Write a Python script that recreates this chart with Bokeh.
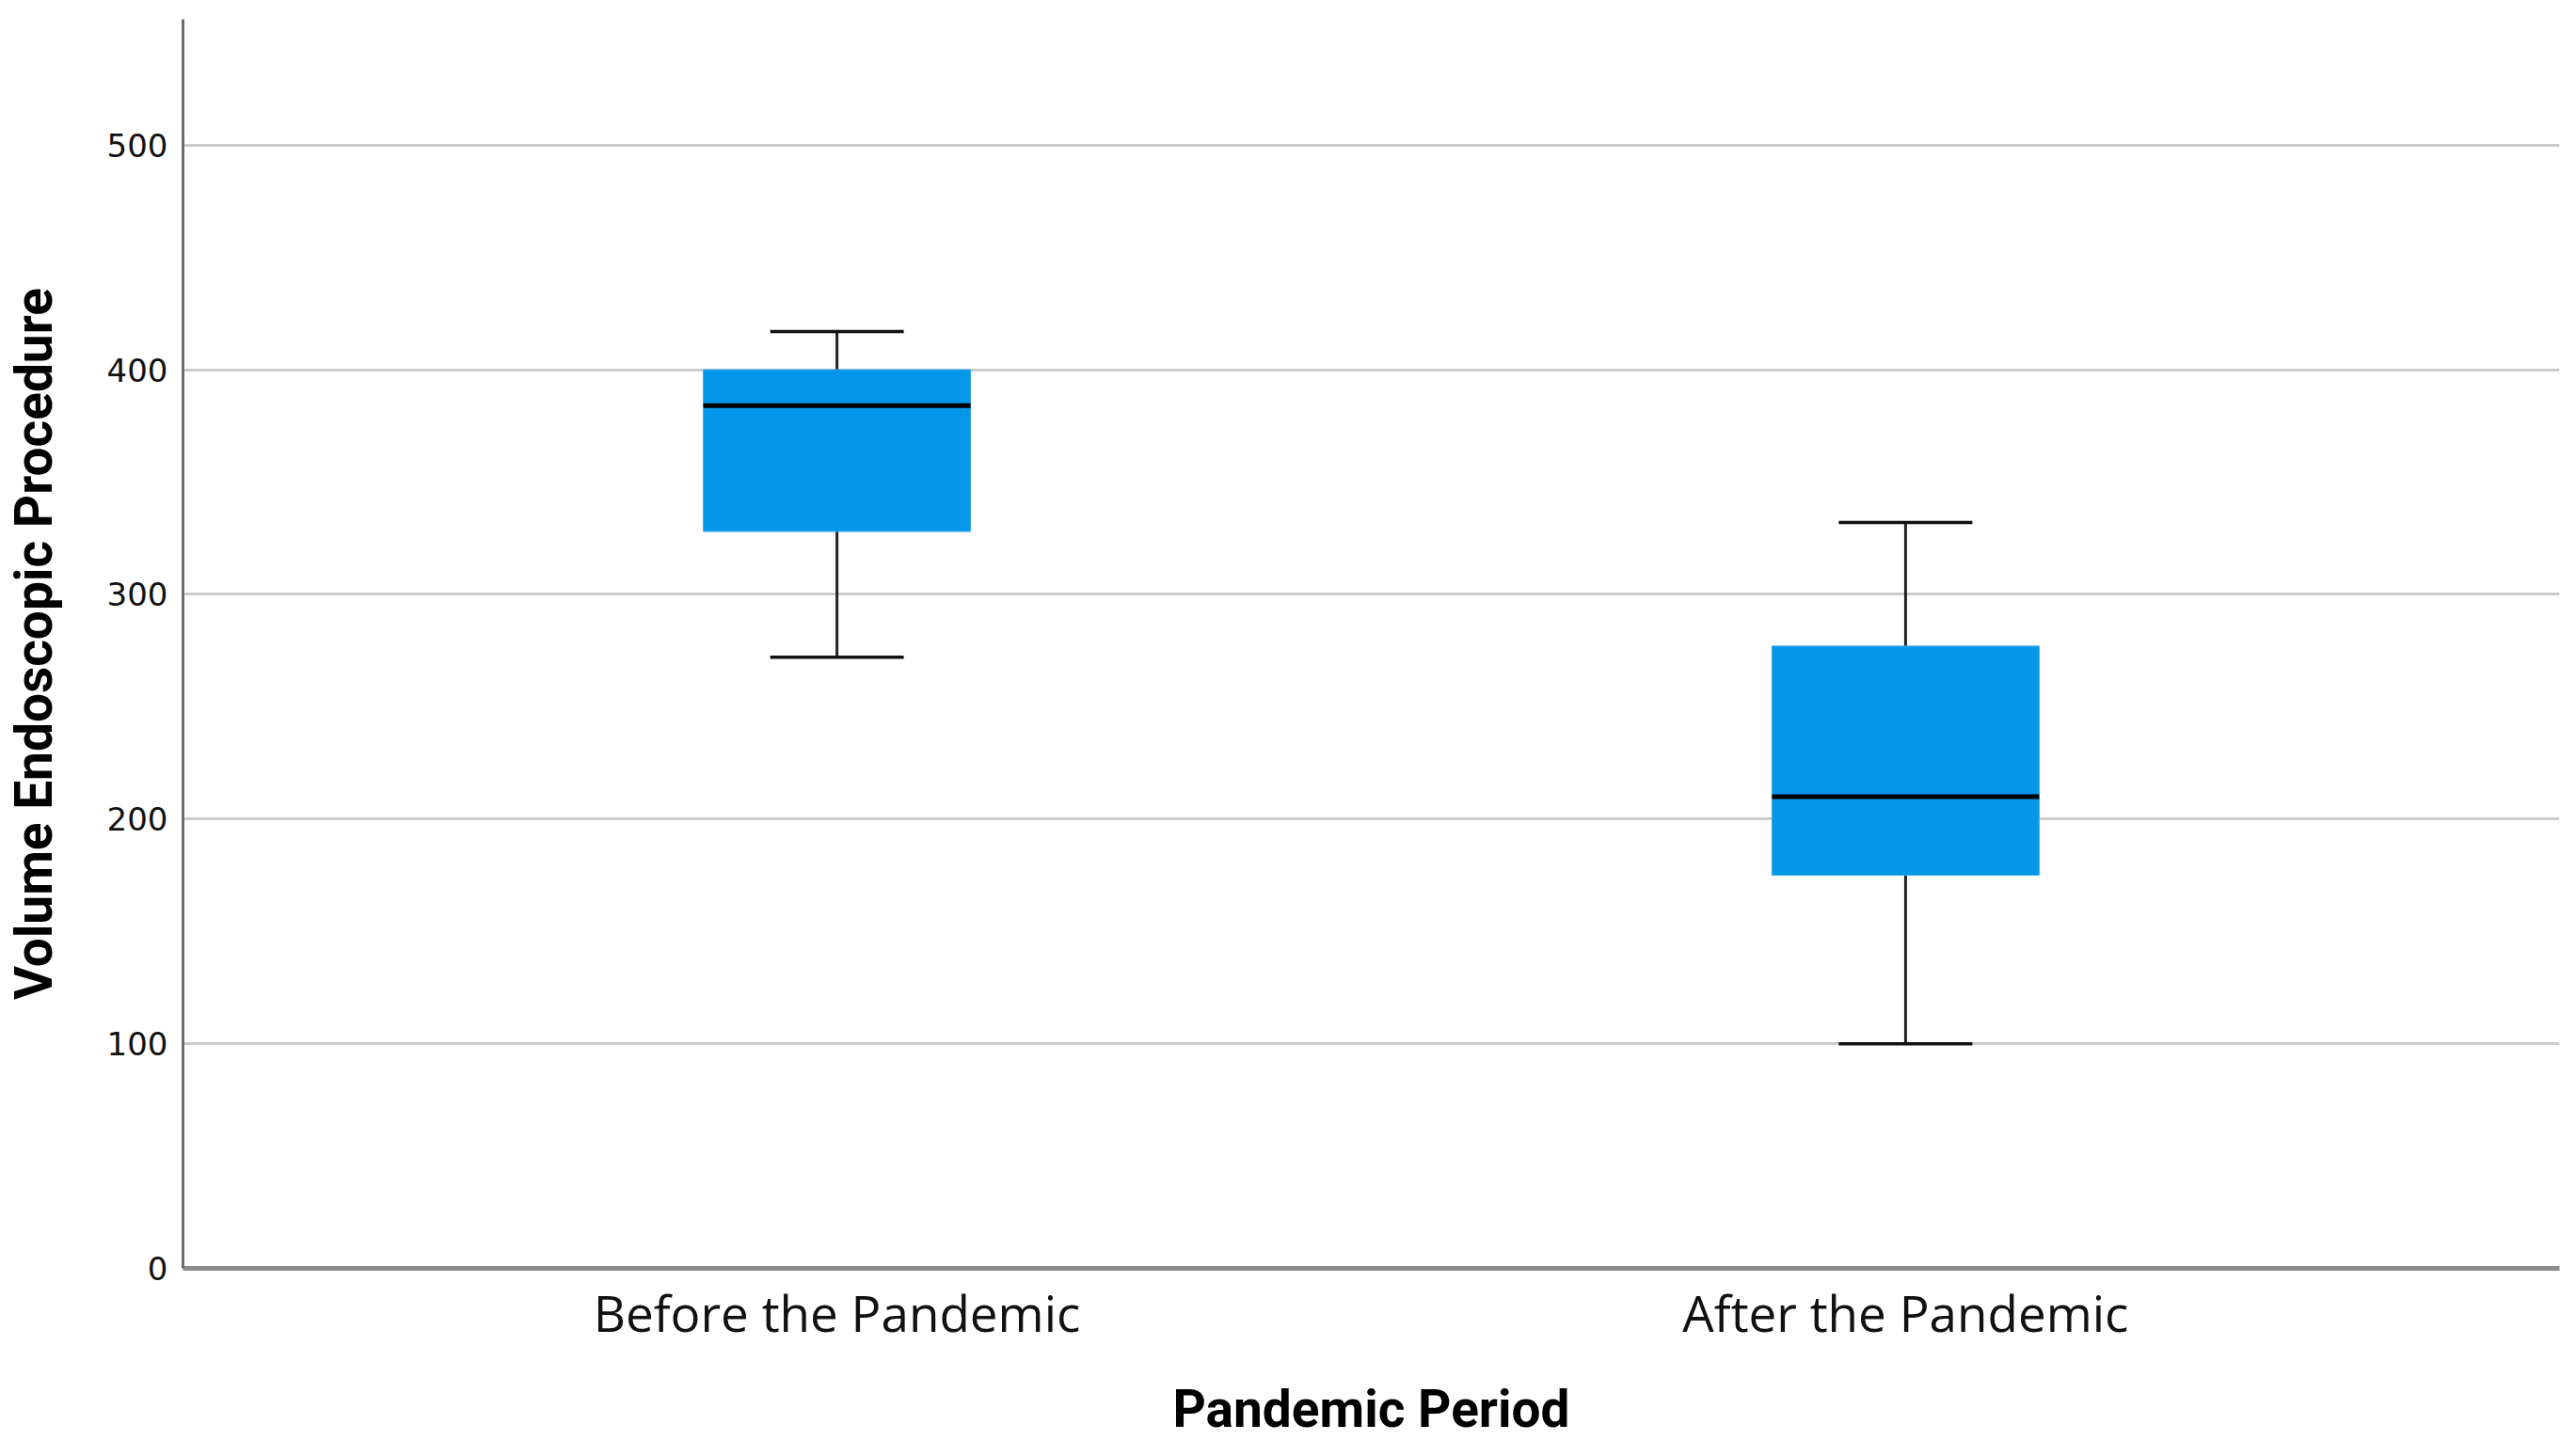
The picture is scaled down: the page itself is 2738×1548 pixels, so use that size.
from bokeh.plotting import figure
from bokeh.models import ColumnDataSource, FactorRange, Range1d, FixedTicker
from bokeh.transform import dodge
from bokeh.embed import file_html
from bokeh.resources import INLINE

# ---- data ----
periods = ["Before the Pandemic", "After the Pandemic"]
whisker_low = [272, 100]
q1 = [328, 175]
median = [384, 210]
q3 = [400, 277]
whisker_high = [417, 332]
y_ticks = [0, 100, 200, 300, 400, 500]

src = ColumnDataSource(dict(period=periods, lo=whisker_low, q1=q1, med=median,
                            q3=q3, hi=whisker_high))

p = figure(x_range=FactorRange(*periods, range_padding=0.112),
           y_range=Range1d(0, 556),
           width=2722, height=1532,
           output_backend="svg", toolbar_location=None,
           min_border_left=194, min_border_right=2,
           min_border_top=20, min_border_bottom=170,
           background_fill_color="white", border_fill_color="white")
p.outline_line_color = None

BOX_W = 0.25
CAP_W = 0.125
BLUE = "#0497e8"

# whiskers
p.segment(x0="period", y0="q3", x1="period", y1="hi", source=src,
          line_color="#222222", line_width=3)
p.segment(x0="period", y0="lo", x1="period", y1="q1", source=src,
          line_color="#222222", line_width=3)
# caps
p.segment(x0=dodge("period", -CAP_W / 2, range=p.x_range), y0="hi",
          x1=dodge("period", CAP_W / 2, range=p.x_range), y1="hi",
          source=src, line_color="#111111", line_width=3.5)
p.segment(x0=dodge("period", -CAP_W / 2, range=p.x_range), y0="lo",
          x1=dodge("period", CAP_W / 2, range=p.x_range), y1="lo",
          source=src, line_color="#111111", line_width=3.5)
# boxes
p.vbar(x="period", bottom="q1", top="q3", width=BOX_W, source=src,
       fill_color=BLUE, line_color="#3aa6ee", line_width=1)
# medians
p.segment(x0=dodge("period", -BOX_W / 2, range=p.x_range), y0="med",
          x1=dodge("period", BOX_W / 2, range=p.x_range), y1="med",
          source=src, line_color="#000000", line_width=5)

# grid
p.xgrid.grid_line_color = None
p.ygrid.grid_line_color = "#cccccc"
p.ygrid.grid_line_width = 3
p.ygrid.level = "underlay"

# y axis
p.yaxis.ticker = FixedTicker(ticks=y_ticks)
p.yaxis.axis_label = "Volume Endoscopic Procedure"
p.yaxis.axis_label_text_font = "Roboto"
p.yaxis.axis_label_text_font_style = "bold"
p.yaxis.axis_label_text_font_size = "55px"
p.yaxis.axis_label_text_color = "#000000"
p.yaxis.axis_label_standoff = 43
p.yaxis.major_label_text_font = "DejaVu Sans"
p.yaxis.major_label_text_font_size = "34px"
p.yaxis.major_label_text_color = "#111111"
p.yaxis.major_label_standoff = 10
p.yaxis.major_tick_line_color = None
p.yaxis.minor_tick_line_color = None
p.yaxis.axis_line_color = "#6b6b6b"
p.yaxis.axis_line_width = 3

# x axis
p.xaxis.axis_label = "Pandemic Period"
p.xaxis.axis_label_text_font = "Roboto"
p.xaxis.axis_label_text_font_style = "bold"
p.xaxis.axis_label_text_font_size = "55px"
p.xaxis.axis_label_text_color = "#000000"
p.xaxis.axis_label_text_line_height = 0.75
p.xaxis.axis_label_standoff = 31
p.xaxis.major_label_text_font = "Open Sans"
p.xaxis.major_label_text_font_size = "53px"
p.xaxis.major_label_text_color = "#111111"
p.xaxis.major_label_text_line_height = 0.75
p.xaxis.major_label_standoff = 4
p.xaxis.major_tick_line_color = None
p.xaxis.minor_tick_line_color = None
p.xaxis.axis_line_color = "#8c8c8c"
p.xaxis.axis_line_width = 5

open("out.html", "w").write(file_html(p, INLINE))
